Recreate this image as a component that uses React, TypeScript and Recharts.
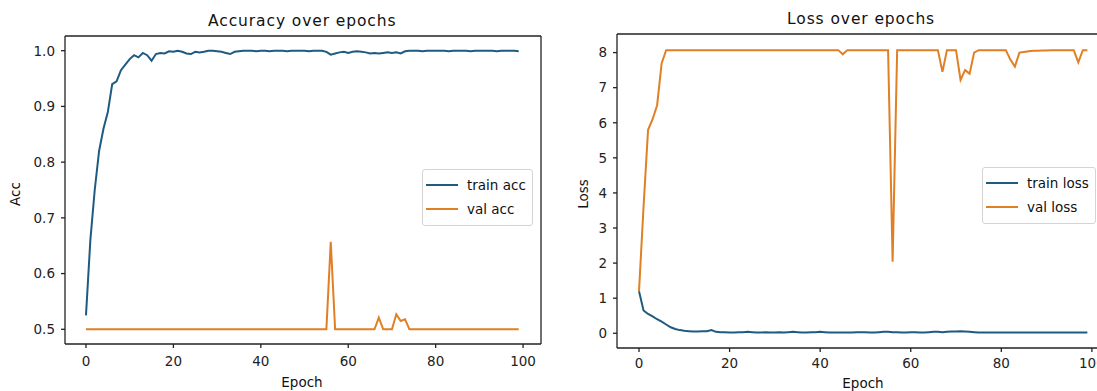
import { LineChart, Line, XAxis, YAxis, Legend, ReferenceLine } from "recharts";

const trainAcc = [
  0.525, 0.66, 0.75, 0.82, 0.86, 0.89, 0.94, 0.945, 0.965, 0.975,
  0.985, 0.992, 0.988, 0.996, 0.992, 0.982, 0.994, 0.996, 0.995, 0.999,
  0.998, 1.0, 0.998, 0.995, 0.994, 0.998, 0.997, 0.998, 1.0, 1.0,
  0.999, 0.998, 0.996, 0.994, 0.998, 0.999, 1.0, 1.0, 1.0, 0.999,
  1.0, 1.0, 0.999, 1.0, 1.0, 1.0, 0.999, 1.0, 1.0, 1.0,
  1.0, 0.999, 1.0, 1.0, 1.0, 0.998, 0.993, 0.995, 0.997, 0.998,
  0.996, 0.998, 0.999, 0.998, 0.997, 0.995, 0.996, 0.995, 0.996, 0.997,
  0.996, 0.997, 0.995, 0.999, 1.0, 1.0, 1.0, 0.999, 1.0, 1.0,
  1.0, 1.0, 1.0, 0.999, 1.0, 1.0, 1.0, 1.0, 0.999, 1.0,
  1.0, 1.0, 1.0, 1.0, 0.999, 1.0, 1.0, 1.0, 1.0, 0.999,
];

const valAcc = [
  0.5, 0.5, 0.5, 0.5, 0.5, 0.5, 0.5, 0.5, 0.5, 0.5,
  0.5, 0.5, 0.5, 0.5, 0.5, 0.5, 0.5, 0.5, 0.5, 0.5,
  0.5, 0.5, 0.5, 0.5, 0.5, 0.5, 0.5, 0.5, 0.5, 0.5,
  0.5, 0.5, 0.5, 0.5, 0.5, 0.5, 0.5, 0.5, 0.5, 0.5,
  0.5, 0.5, 0.5, 0.5, 0.5, 0.5, 0.5, 0.5, 0.5, 0.5,
  0.5, 0.5, 0.5, 0.5, 0.5, 0.5, 0.657, 0.5, 0.5, 0.5,
  0.5, 0.5, 0.5, 0.5, 0.5, 0.5, 0.5, 0.521, 0.5, 0.5,
  0.5, 0.527, 0.515, 0.518, 0.5, 0.5, 0.5, 0.5, 0.5, 0.5,
  0.5, 0.5, 0.5, 0.5, 0.5, 0.5, 0.5, 0.5, 0.5, 0.5,
  0.5, 0.5, 0.5, 0.5, 0.5, 0.5, 0.5, 0.5, 0.5, 0.5,
];

const trainLoss = [
  1.2, 0.65, 0.55, 0.48, 0.4, 0.33, 0.25, 0.17, 0.12, 0.09,
  0.07, 0.06, 0.05, 0.05, 0.06, 0.06, 0.09, 0.04, 0.03, 0.03,
  0.02, 0.02, 0.03, 0.03, 0.04, 0.03, 0.02, 0.02, 0.03, 0.02,
  0.02, 0.03, 0.02, 0.03, 0.04, 0.03, 0.02, 0.02, 0.03, 0.03,
  0.04, 0.03, 0.02, 0.02, 0.02, 0.02, 0.02, 0.02, 0.03, 0.03,
  0.03, 0.02, 0.02, 0.03, 0.04, 0.04, 0.03, 0.03, 0.02, 0.02,
  0.03, 0.03, 0.02, 0.02, 0.03, 0.04, 0.04, 0.03, 0.04, 0.05,
  0.05, 0.06, 0.05, 0.04, 0.03, 0.02, 0.02, 0.02, 0.02, 0.02,
  0.02, 0.02, 0.02, 0.02, 0.02, 0.02, 0.02, 0.02, 0.02, 0.02,
  0.02, 0.02, 0.02, 0.02, 0.02, 0.02, 0.02, 0.02, 0.02, 0.02,
];

const valLoss = [
  1.2, 3.6, 5.8, 6.1, 6.5, 7.7, 8.07, 8.07, 8.07, 8.07,
  8.07, 8.07, 8.07, 8.07, 8.07, 8.07, 8.07, 8.07, 8.07, 8.07,
  8.07, 8.07, 8.07, 8.07, 8.07, 8.07, 8.07, 8.07, 8.07, 8.07,
  8.07, 8.07, 8.07, 8.07, 8.07, 8.07, 8.07, 8.07, 8.07, 8.07,
  8.07, 8.07, 8.07, 8.07, 8.07, 7.95, 8.07, 8.07, 8.07, 8.07,
  8.07, 8.07, 8.07, 8.07, 8.07, 8.07, 2.04, 8.07, 8.07, 8.07,
  8.07, 8.07, 8.07, 8.07, 8.07, 8.07, 8.07, 7.45, 8.07, 8.07,
  8.07, 7.22, 7.5, 7.4, 8.0, 8.07, 8.07, 8.07, 8.07, 8.07,
  8.07, 8.07, 7.8, 7.6, 8.0, 8.02, 8.04, 8.05, 8.05, 8.06,
  8.06, 8.07, 8.07, 8.07, 8.07, 8.07, 8.07, 7.72, 8.07, 8.07,
];

const xTicks = [0, 20, 40, 60, 80, 100];
const accTicks = [0.5, 0.6, 0.7, 0.8, 0.9, 1.0];
const lossTicks = [0, 1, 2, 3, 4, 5, 6, 7, 8];

const accRows = trainAcc.map((v, i) => ({ epoch: i, "train acc": v, "val acc": valAcc[i] }));
const lossRows = trainLoss.map((v, i) => ({ epoch: i, "train loss": v, "val loss": valLoss[i] }));

// axis ranges (matplotlib style 5% padding)
const accX: [number, number] = [-4.8, 104.1];
const accY: [number, number] = [0.4736, 1.0264];
const lossX: [number, number] = [-4.86, 104];
const lossY: [number, number] = [-0.42, 8.53];

const BLUE = "#1f5a80";
const ORANGE = "#e07f24";
const FONT = "'DejaVu Sans', sans-serif";
const AX = "#222";
const tickStyle = { fontSize: 13.5, fill: "#222", fontFamily: FONT };

function BoxLegend({ payload }: any) {
  return (
    <div
      style={{
        border: "1px solid #d4d4d4",
        borderRadius: 3,
        background: "#fff",
        padding: "3px 6px 4px 3px",
        fontFamily: FONT,
        fontSize: 13.5,
        color: "#111",
        lineHeight: "24px",
      }}
    >
      {(payload || []).map((p: any) => (
        <div key={p.value} style={{ display: "flex", alignItems: "center", whiteSpace: "nowrap" }}>
          <span style={{ display: "inline-block", width: 32, height: 2.5, background: p.color, marginRight: 9 }} />
          {p.value}
        </div>
      ))}
    </div>
  );
}

const text = (extra: any) => ({
  position: "absolute" as const,
  fontFamily: FONT,
  color: "#111",
  whiteSpace: "nowrap" as const,
  ...extra,
});

export default function App() {
  return (
    <div
      style={{
        position: "fixed",
        left: 0,
        top: 0,
        width: 1097,
        height: 391,
        overflow: "hidden",
        background: "#fff",
      }}
    >
      {/* accuracy */}
      <div style={{ position: "absolute", left: 0, top: 0 }}>
        <LineChart width={560} height={391} data={accRows} margin={{ top: 36, right: 19, left: 0, bottom: 0 }}>
          <XAxis
            dataKey="epoch"
            type="number"
            domain={accX}
            ticks={xTicks}
            allowDataOverflow
            height={47}
            tickSize={4}
            tickMargin={8}
            stroke={AX}
            strokeWidth={1.3}
            tick={tickStyle}
          />
          <YAxis
            type="number"
            domain={accY}
            ticks={accTicks}
            allowDataOverflow
            width={65}
            tickSize={4}
            tickMargin={6}
            stroke={AX}
            strokeWidth={1.3}
            tick={tickStyle}
            tickFormatter={(v: number) => v.toFixed(1)}
          />
          <ReferenceLine y={accY[1]} stroke={AX} strokeWidth={1.3} />
          <ReferenceLine x={accX[1]} stroke={AX} strokeWidth={1.3} />
          <Line type="linear" dataKey="train acc" stroke={BLUE} strokeWidth={2} dot={false} isAnimationActive={false} />
          <Line type="linear" dataKey="val acc" stroke={ORANGE} strokeWidth={2} dot={false} isAnimationActive={false} />
          <Legend
            layout="vertical"
            align="center"
            verticalAlign="middle"
            content={<BoxLegend />}
            wrapperStyle={{ left: 422, top: 169, width: "auto" }}
          />
        </LineChart>
        <div style={text({ left: 208, top: 12, fontSize: 15.5, letterSpacing: 0.9 })}>Accuracy over epochs</div>
        <div style={text({ left: 15, top: 194, fontSize: 13.5, transform: "translate(-50%, -50%) rotate(-90deg)" })}>Acc</div>
        <div style={text({ left: 302, top: 382, fontSize: 13.5, transform: "translate(-50%, -50%)" })}>Epoch</div>
      </div>

      {/* loss */}
      <div style={{ position: "absolute", left: 560, top: 0 }}>
        <LineChart width={570} height={391} data={lossRows} margin={{ top: 34, right: 20, left: 0, bottom: 0 }}>
          <XAxis
            dataKey="epoch"
            type="number"
            domain={lossX}
            ticks={xTicks}
            allowDataOverflow
            height={43}
            tickSize={4}
            tickMargin={6}
            stroke={AX}
            strokeWidth={1.3}
            tick={tickStyle}
          />
          <YAxis
            type="number"
            domain={lossY}
            ticks={lossTicks}
            allowDataOverflow
            width={57}
            tickSize={4}
            tickMargin={6}
            stroke={AX}
            strokeWidth={1.3}
            tick={tickStyle}
          />
          <ReferenceLine y={lossY[1]} stroke={AX} strokeWidth={1.3} />
          <ReferenceLine x={lossX[1]} stroke={AX} strokeWidth={1.3} />
          <Line type="linear" dataKey="train loss" stroke={BLUE} strokeWidth={2} dot={false} isAnimationActive={false} />
          <Line type="linear" dataKey="val loss" stroke={ORANGE} strokeWidth={2} dot={false} isAnimationActive={false} />
          <Legend
            layout="vertical"
            align="center"
            verticalAlign="middle"
            content={<BoxLegend />}
            wrapperStyle={{ left: 422, top: 167, width: "auto" }}
          />
        </LineChart>
        <div style={text({ left: 227, top: 10, fontSize: 15.5, letterSpacing: 0.9 })}>Loss over epochs</div>
        <div style={text({ left: 23, top: 194, fontSize: 13.5, transform: "translate(-50%, -50%) rotate(-90deg)" })}>Loss</div>
        <div style={text({ left: 303, top: 383, fontSize: 13.5, transform: "translate(-50%, -50%)" })}>Epoch</div>
      </div>
    </div>
  );
}
